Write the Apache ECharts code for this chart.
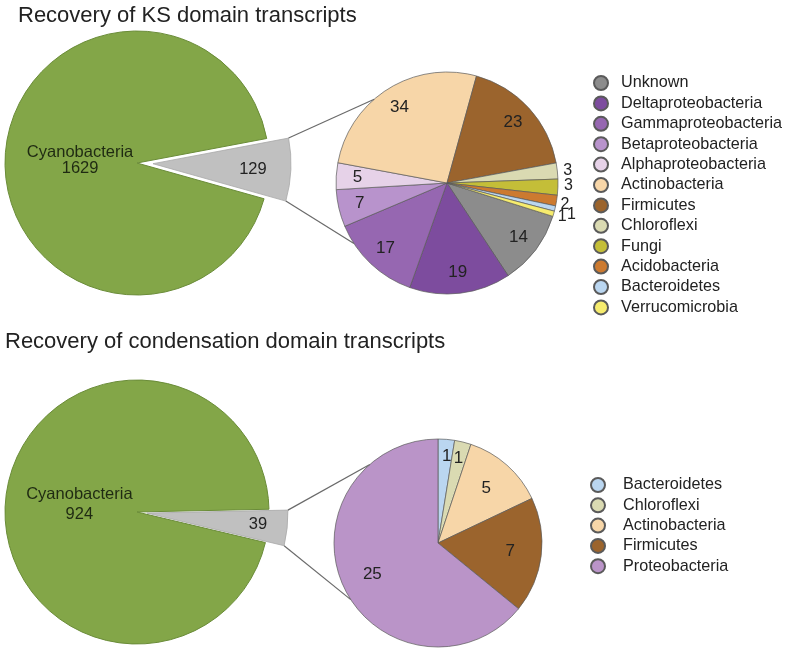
<!DOCTYPE html>
<html><head><meta charset="utf-8">
<script src="https://cdn.jsdelivr.net/npm/echarts@6/dist/echarts.min.js"></script>
<style>html,body{margin:0;padding:0;background:#fff}#c{width:787px;height:651px}</style>
</head><body><div id="c"></div>
<script>
// ---------------- DATA ----------------
const titles = ['Recovery of KS domain transcripts', 'Recovery of condensation domain transcripts'];
const mainName = 'Cyanobacteria';
const ksCyano = 1629;
const ksOther = 129;
const ksNames = ['Unknown', 'Deltaproteobacteria', 'Gammaproteobacteria', 'Betaproteobacteria',
  'Alphaproteobacteria', 'Actinobacteria', 'Firmicutes', 'Chloroflexi', 'Fungi',
  'Acidobacteria', 'Bacteroidetes', 'Verrucomicrobia'];
const ksValues = [14, 19, 17, 7, 5, 34, 23, 3, 3, 2, 1, 1];
const ksLegend = ['Unknown', 'Deltaproteobacteria', 'Gammaproteobacteria', 'Betaproteobacteria',
  'Alphaproteobacteria', 'Actinobacteria', 'Firmicutes', 'Chloroflexi', 'Fungi',
  'Acidobacteria', 'Bacteroidetes', 'Verrucomicrobia'];
const cdCyano = 924;
const cdOther = 39;
const cdNames = ['Bacteroidetes', 'Chloroflexi', 'Actinobacteria', 'Firmicutes', 'Proteobacteria'];
const cdValues = [1, 1, 5, 7, 25];
const cdLegend = ['Bacteroidetes', 'Chloroflexi', 'Actinobacteria', 'Firmicutes', 'Proteobacteria'];

// ---------------- STYLE ----------------
const colorMap = {
  'Unknown': '#8c8c8c',
  'Deltaproteobacteria': '#7d4c9e',
  'Gammaproteobacteria': '#9667b1',
  'Betaproteobacteria': '#b893cc',
  'Alphaproteobacteria': '#e6d2e8',
  'Actinobacteria': '#f7d6a8',
  'Firmicutes': '#9b642d',
  'Chloroflexi': '#dadab2',
  'Fungi': '#c4be38',
  'Acidobacteria': '#cc7a30',
  'Bacteroidetes': '#bad6f0',
  'Verrucomicrobia': '#f6ec6e',
  'Proteobacteria': '#ba94c8'
};
const GREEN = '#83a648', GREEN_BORDER = '#6a8c38', GREY = '#c0c0c0';
const FONT = '"Liberation Sans", Arial, sans-serif';
const TXT = '#222';

// layout geometry (pixels)
const G_TOP = { c: [137, 163], r: 132, start: 10.7, tipOff: 16, greyR: 138, c2: [447, 183], r2: 111, start2: -17.5,
  labelK: 0.56, greenPad: [0, 0, 0, 24], greenLH: 16, greyPad: [0, 0, 0, 56], greyFmt: '\n{c}', greyLH: 6 };
const G_BOT = { c: [137, 512], r: 132, start: 1.2, tipOff: 10, greyR: 141, c2: [438, 543], r2: 104, start2: 90,
  labelK: 0.34, greenPad: [0, 0, 0, 22], greenLH: 20, greyPad: [0, 0, 0, 76], greyFmt: '\n{c}', greyLH: 8 };
const CONNECT_ANGLES = [131, 213];

const rad = d => d * Math.PI / 180;
const series = [];
const graphic = [];

// per-label nudges: [formatter, lineHeight, padding]
function build(g, cyano, other, names, values, smallOutside, nudge) {
  const span = other / (other + cyano) * 360;
  const bis = rad(g.start - span / 2);
  const tip = [g.c[0] + g.tipOff * Math.cos(bis), g.c[1] - g.tipOff * Math.sin(bis)];
  const clear = 'rgba(0,0,0,0)';
  // green main pie
  series.push({
    type: 'pie', center: g.c, radius: [0, g.r], startAngle: g.start, silent: true,
    avoidLabelOverlap: false, labelLine: { show: false }, labelLayout: { hideOverlap: false },
    label: { show: false },
    data: [
      { name: 'Other', value: other, itemStyle: { color: clear, borderWidth: 0 } },
      { name: mainName, value: cyano, itemStyle: { color: GREEN, borderColor: GREEN_BORDER, borderWidth: 1 },
        label: { show: true, position: 'inside', formatter: '{b}\n{c}', fontSize: 16.5, lineHeight: g.greenLH,
          color: '#1f2a12', fontFamily: FONT, padding: g.greenPad } }
    ]
  });
  // exploded grey slice
  series.push({
    type: 'pie', center: tip, radius: [0, g.greyR], startAngle: g.start, silent: true,
    avoidLabelOverlap: false, labelLine: { show: false }, label: { show: false },
    labelLayout: { hideOverlap: false },
    data: [
      { name: 'Other', value: other, itemStyle: { color: GREY, borderColor: '#a8a8a8', borderWidth: 0.8 },
        label: { show: true, position: 'inside', formatter: g.greyFmt, lineHeight: g.greyLH, fontSize: 16.5,
          color: TXT, fontFamily: FONT, padding: g.greyPad } },
      { name: mainName, value: cyano, itemStyle: { color: clear, borderWidth: 0 } }
    ]
  });
  // breakdown pie
  series.push({
    type: 'pie', center: g.c2, radius: [0, g.r2], startAngle: g.start2, silent: true,
    avoidLabelOverlap: false, label: { show: false }, labelLine: { show: false },
    itemStyle: { borderColor: '#5a5a5a', borderWidth: 0.7 },
    data: names.map((n, i) => ({ name: n, value: values[i], itemStyle: { color: colorMap[n] } }))
  });
  // label overlay for breakdown pie
  series.push({
    type: 'pie', center: g.c2, radius: [g.r2 * g.labelK, g.r2], startAngle: g.start2, silent: true,
    avoidLabelOverlap: false, labelLayout: { hideOverlap: false },
    itemStyle: { color: clear, borderWidth: 0 },
    labelLine: { show: false, length: 0, length2: 0 },
    label: { show: true, position: 'inside', formatter: '{c}', fontSize: 17, color: TXT, fontFamily: FONT },
    data: values.map((v, i) => {
      const d = { value: v };
      const lab = {};
      if (smallOutside.includes(i)) Object.assign(lab, { position: 'outside', distanceToLabelLine: 4, fontSize: 16 });
      if (nudge[i]) Object.assign(lab, { formatter: nudge[i][0], lineHeight: nudge[i][1], padding: nudge[i][2] });
      d.label = lab;
      return d;
    })
  });
  // connector lines
  const corners = [g.start, g.start - span].map(a =>
    [tip[0] + g.greyR * Math.cos(rad(a)), tip[1] - g.greyR * Math.sin(rad(a))]);
  CONNECT_ANGLES.forEach((a, k) => {
    const p = [g.c2[0] + g.r2 * Math.cos(rad(a)), g.c2[1] - g.r2 * Math.sin(rad(a))];
    graphic.push({ type: 'line', silent: true, z: 10,
      shape: { x1: corners[k][0], y1: corners[k][1], x2: p[0], y2: p[1] },
      style: { stroke: '#6a6a6a', lineWidth: 1.2 } });
  });
}

build(G_TOP, ksCyano, ksOther, ksNames, ksValues, [7, 8, 9, 10, 11], {
  7: ['{c}', 17, [0, 0, 0, 2]],
  8: ['{c}\n', 4, [0, 0, 0, 2]],
  9: ['\n{c}', 8, 0],
  10: ['\n{c}', 12, [0, 0, 0, 8]],
  11: ['\n{c}', 6, 0]
});
build(G_BOT, cdCyano, cdOther, cdNames, cdValues, [], {
  0: ['{c}\n\n', 14, [0, 0, 0, 6]],
  1: ['{c}\n\n', 14, [0, 0, 0, 6]]
});

const legendBase = {
  orient: 'vertical', icon: 'circle', itemHeight: 14, padding: 0, selectedMode: false,
  textStyle: { fontSize: 16.2, color: TXT, fontFamily: FONT }
};

const chart = echarts.init(document.getElementById('c'), null, { renderer: 'canvas' });
chart.setOption({
  animation: false,
  backgroundColor: '#fff',
  title: [
    { text: titles[0], left: 18, top: 5, padding: 0,
      textStyle: { fontSize: 22, fontWeight: 'normal', color: TXT, fontFamily: FONT } },
    { text: titles[1], left: 5, top: 331, padding: 0,
      textStyle: { fontSize: 22, fontWeight: 'normal', color: TXT, fontFamily: FONT } }
  ],
  legend: [
    Object.assign({}, legendBase, { left: 593, top: 75, itemWidth: 30, itemGap: 4.4, data: ksLegend }),
    Object.assign({}, legendBase, { left: 590, top: 477, itemWidth: 40, itemGap: 4.3, data: cdLegend })
  ],
  series: series,
  graphic: graphic
});
</script>
</body></html>
